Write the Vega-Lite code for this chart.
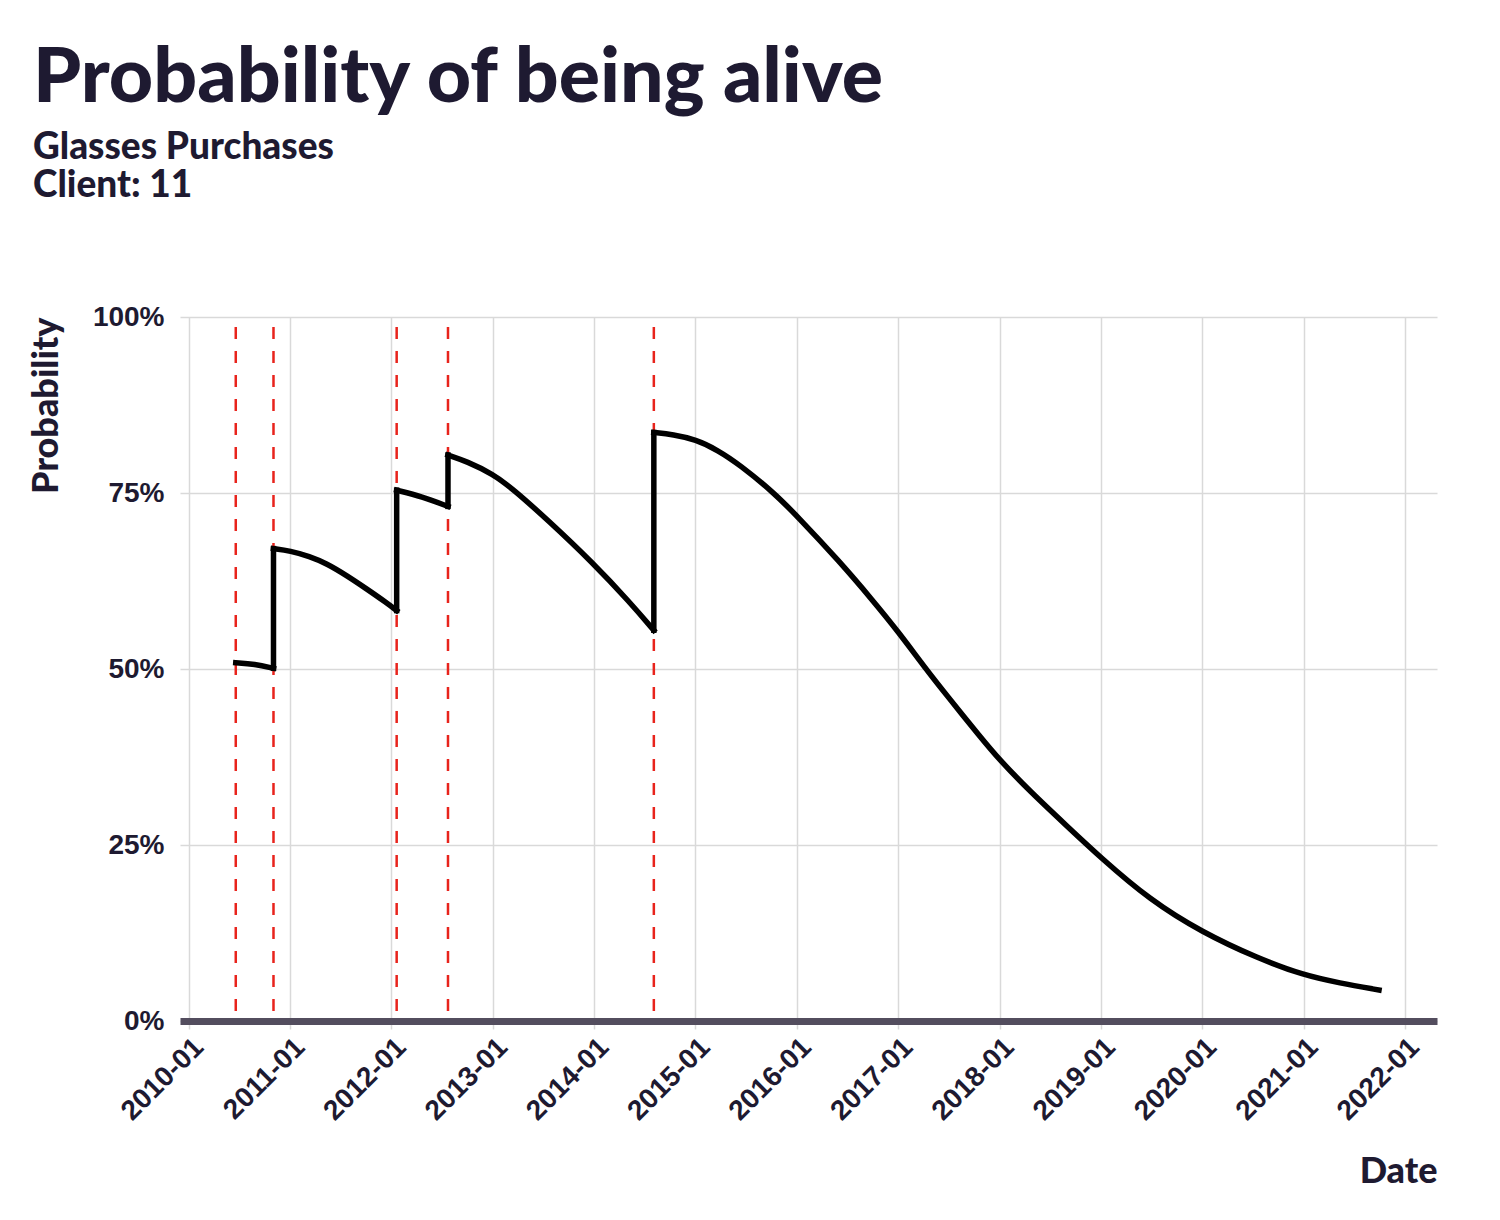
{
  "$schema": "https://vega.github.io/schema/vega-lite/v6.json",
  "autosize": {"type": "none"},
  "padding": {"left": 180, "top": 317, "right": 63, "bottom": 199},
  "width": 1257,
  "height": 704,
  "background": "white",
  "title": {
    "text": "Probability of being alive",
    "subtitle": ["Glasses Purchases", "Client: 11"],
    "anchor": "start",
    "frame": "group",
    "dx": -147,
    "offset": 98,
    "font": "Lato",
    "fontSize": 77,
    "fontWeight": 900,
    "color": "#1e1a31",
    "subtitleFont": "Lato",
    "subtitleFontSize": 37,
    "subtitleFontWeight": 900,
    "subtitleColor": "#1e1a31",
    "subtitleLineHeight": 38,
    "subtitlePadding": 12
  },
  "config": {
    "view": {"stroke": null},
    "axis": {
      "gridColor": "#d9d9d9",
      "gridWidth": 1.5,
      "labelFont": "Liberation Sans",
      "labelFontWeight": "bold",
      "labelFontSize": 28,
      "labelColor": "#1e1a31",
      "titleFont": "Lato",
      "titleFontWeight": 900,
      "titleFontSize": 36,
      "titleColor": "#1e1a31"
    }
  },
  "datasets": {
    "curve": [
      {"seg": 1, "date": "2010-06-19", "p": 0.509},
      {"seg": 1, "date": "2010-08-26", "p": 0.507},
      {"seg": 1, "date": "2010-11-02", "p": 0.501},
      {"seg": 2, "date": "2010-11-02", "p": 0.671},
      {"seg": 2, "date": "2011-01-01", "p": 0.668},
      {"seg": 2, "date": "2011-03-12", "p": 0.660},
      {"seg": 2, "date": "2011-05-12", "p": 0.650},
      {"seg": 2, "date": "2011-07-23", "p": 0.633},
      {"seg": 2, "date": "2011-10-03", "p": 0.614},
      {"seg": 2, "date": "2011-12-15", "p": 0.594},
      {"seg": 2, "date": "2012-01-20", "p": 0.583},
      {"seg": 3, "date": "2012-01-20", "p": 0.754},
      {"seg": 3, "date": "2012-04-20", "p": 0.745},
      {"seg": 3, "date": "2012-07-23", "p": 0.731},
      {"seg": 4, "date": "2012-07-23", "p": 0.804},
      {"seg": 4, "date": "2012-09-28", "p": 0.795},
      {"seg": 4, "date": "2013-01-01", "p": 0.777},
      {"seg": 4, "date": "2013-03-13", "p": 0.756},
      {"seg": 4, "date": "2013-07-14", "p": 0.713},
      {"seg": 4, "date": "2013-12-27", "p": 0.651},
      {"seg": 4, "date": "2014-05-09", "p": 0.595},
      {"seg": 4, "date": "2014-08-04", "p": 0.555},
      {"seg": 5, "date": "2014-08-04", "p": 0.836},
      {"seg": 5, "date": "2014-10-12", "p": 0.833},
      {"seg": 5, "date": "2015-01-02", "p": 0.826},
      {"seg": 5, "date": "2015-03-22", "p": 0.811},
      {"seg": 5, "date": "2015-06-10", "p": 0.790},
      {"seg": 5, "date": "2015-10-06", "p": 0.752},
      {"seg": 5, "date": "2016-01-01", "p": 0.718},
      {"seg": 5, "date": "2016-06-05", "p": 0.652},
      {"seg": 5, "date": "2016-10-02", "p": 0.597},
      {"seg": 5, "date": "2017-01-01", "p": 0.553},
      {"seg": 5, "date": "2017-04-07", "p": 0.502},
      {"seg": 5, "date": "2017-06-26", "p": 0.462},
      {"seg": 5, "date": "2017-10-23", "p": 0.404},
      {"seg": 5, "date": "2018-01-01", "p": 0.371},
      {"seg": 5, "date": "2018-04-19", "p": 0.327},
      {"seg": 5, "date": "2018-09-01", "p": 0.277},
      {"seg": 5, "date": "2019-01-01", "p": 0.232},
      {"seg": 5, "date": "2019-06-27", "p": 0.172},
      {"seg": 5, "date": "2020-01-01", "p": 0.126},
      {"seg": 5, "date": "2020-07-20", "p": 0.089},
      {"seg": 5, "date": "2021-01-01", "p": 0.065},
      {"seg": 5, "date": "2021-05-10", "p": 0.054},
      {"seg": 5, "date": "2021-09-30", "p": 0.044}
    ],
    "jumps": [
      {"date": "2010-11-02", "low": 0.501, "high": 0.671},
      {"date": "2012-01-20", "low": 0.583, "high": 0.754},
      {"date": "2012-07-23", "low": 0.731, "high": 0.804},
      {"date": "2014-08-04", "low": 0.555, "high": 0.836}
    ],
    "purchases": [
      {"date": "2010-06-19"},
      {"date": "2010-11-02"},
      {"date": "2012-01-20"},
      {"date": "2012-07-23"},
      {"date": "2014-08-04"}
    ]
  },
  "layer": [
    {
      "data": {"name": "purchases"},
      "mark": {"type": "rule", "color": "#e8231c", "strokeWidth": 2.5, "strokeDash": [12, 12], "strokeDashOffset": 14},
      "encoding": {
        "x": {
          "field": "date",
          "type": "temporal",
          "scale": {"domain": [{"year": 2009, "month": 11, "date": 30}, {"year": 2022, "month": 4, "date": 27}]},
          "axis": {
            "format": "%Y-%m",
            "tickCount": {"interval": "year", "step": 1},
            "labelAngle": -45,
            "labelPadding": 4,
            "ticks": true,
            "tickSize": 8,
            "tickColor": "#d9d9d9",
            "tickWidth": 1.5,
            "domain": true,
            "domainColor": "#534d5e",
            "domainWidth": 7,
            "title": "Date",
            "titleAnchor": "end",
            "titleAlign": "right",
            "titleBaseline": "alphabetic",
            "titleX": 1257,
            "titleY": 161
          }
        }
      }
    },
    {
      "data": {"name": "curve"},
      "mark": {"type": "line", "color": "black", "strokeWidth": 5.5, "strokeCap": "square", "interpolate": "basis"},
      "encoding": {
        "x": {"field": "date", "type": "temporal"},
        "y": {
          "field": "p",
          "type": "quantitative",
          "scale": {"domain": [0, 1]},
          "axis": {
            "values": [0, 0.25, 0.5, 0.75, 1],
            "format": ".0%",
            "domain": false,
            "ticks": false,
            "labelPadding": 16,
            "title": "Probability",
            "titleAngle": -90,
            "titleAlign": "right",
            "titleBaseline": "alphabetic",
            "titleX": -123,
            "titleY": 0
          }
        },
        "detail": {"field": "seg", "type": "nominal"}
      }
    },
    {
      "data": {"name": "jumps"},
      "mark": {"type": "rule", "color": "black", "strokeWidth": 5.5, "strokeCap": "square"},
      "encoding": {
        "x": {"field": "date", "type": "temporal"},
        "y": {"field": "low", "type": "quantitative"},
        "y2": {"field": "high"}
      }
    }
  ]
}
